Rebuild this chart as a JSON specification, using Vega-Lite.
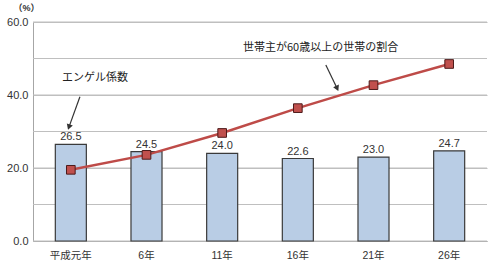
{
  "$schema": "https://vega.github.io/schema/vega-lite/v6.json",
  "width": 454,
  "height": 219,
  "autosize": {"type": "none"},
  "padding": {"left": 33, "top": 22, "right": 13, "bottom": 31},
  "background": "white",
  "config": {
    "view": {"stroke": null},
    "font": "Liberation Sans, Noto Sans CJK JP",
    "axis": {"labelFont": "Liberation Sans, Noto Sans CJK JP", "labelColor": "#333333"}
  },
  "datasets": {
    "main": [
      {"year": "平成元年", "engel": 26.5, "elder": 19.5},
      {"year": "6年", "engel": 24.5, "elder": 23.6},
      {"year": "11年", "engel": 24.0, "elder": 29.6},
      {"year": "16年", "engel": 22.6, "elder": 36.4},
      {"year": "21年", "engel": 23.0, "elder": 42.7},
      {"year": "26年", "engel": 24.7, "elder": 48.5}
    ],
    "grid": [{"engel": 0}, {"engel": 10}, {"engel": 20}, {"engel": 30}, {"engel": 40}, {"engel": 50}, {"engel": 60}],
    "notes": [
      {"label": "エンゲル係数", "pos": 0.82, "engel": 44.7},
      {"label": "世帯主が60歳以上の世帯の割合", "pos": 3.8, "engel": 52.9}
    ],
    "arrows": [
      {"id": "a", "pos": 0.62, "engel": 39.5, "pos2": 0.475, "val2": 31.2},
      {"id": "b", "pos": 3.87, "engel": 48.2, "pos2": 4.02, "val2": 41.8}
    ]
  },
  "layer": [
    {
      "layer": [
        {
          "data": {"name": "grid"},
          "mark": {"type": "rule", "color": "#bfbfbf", "strokeWidth": 1.2},
          "encoding": {
            "y": {"field": "engel", "type": "quantitative"}
          }
        },
        {
          "data": {"name": "main"},
          "mark": {"type": "bar", "fill": "#b9cde5", "stroke": "#3a3a3a", "strokeWidth": 1.2},
          "encoding": {
            "x": {
              "field": "year", "type": "nominal", "sort": null,
              "scale": {"paddingInner": 0.59, "paddingOuter": 0.295},
              "axis": {"title": null, "labelAngle": 0, "ticks": false, "domainColor": "#a6a6a6", "labelFontSize": 10.5, "labelPadding": 9}
            },
            "y": {
              "field": "engel", "type": "quantitative",
              "scale": {"domain": [0, 60], "nice": false},
              "axis": {
                "values": [0, 10, 20, 30, 40, 50, 60], "format": ".1f", "ticks": false, "labelOverlap": false,
                "domain": true, "domainColor": "#a6a6a6", "gridColor": "#bfbfbf", "gridWidth": 1.2,
                "labelFontSize": 11, "labelPadding": 5,
                "title": "（%）", "titleAngle": 0, "titleX": -20, "titleY": -10, "titleAlign": "left",
                "titleFontSize": 9, "titleFontWeight": "bold", "titleColor": "#333333"
              }
            }
          }
        },
        {
          "data": {"name": "main"},
          "mark": {"type": "text", "dy": -7, "fontSize": 11, "color": "#333333"},
          "encoding": {
            "x": {"field": "year", "type": "nominal", "sort": null},
            "y": {"field": "engel", "type": "quantitative"},
            "text": {"field": "engel", "type": "quantitative", "format": ".1f"}
          }
        },
        {
          "data": {"name": "main"},
          "mark": {"type": "line", "color": "#be4b48", "strokeWidth": 2.5},
          "encoding": {
            "x": {"field": "year", "type": "nominal", "sort": null},
            "y": {"field": "elder", "type": "quantitative"}
          }
        },
        {
          "data": {"name": "main"},
          "mark": {"type": "point", "shape": "square", "filled": true, "fill": "#c0504d", "stroke": "#4d1a1a", "strokeWidth": 1, "size": 75, "opacity": 1},
          "encoding": {
            "x": {"field": "year", "type": "nominal", "sort": null},
            "y": {"field": "elder", "type": "quantitative"}
          }
        }
      ]
    },
    {
      "layer": [
        {
          "data": {"name": "notes"},
          "mark": {"type": "text", "fontSize": 11, "color": "#222222", "font": "Noto Sans CJK JP"},
          "encoding": {
            "x": {"field": "pos", "type": "quantitative", "scale": {"domain": [0, 6], "nice": false}, "axis": null},
            "y": {"field": "engel", "type": "quantitative", "axis": null},
            "text": {"field": "label"}
          }
        },
        {
          "data": {"name": "arrows"},
          "mark": {"type": "rule", "color": "#333333", "strokeWidth": 1.2},
          "encoding": {
            "x": {"field": "pos", "type": "quantitative"},
            "y": {"field": "engel", "type": "quantitative"},
            "x2": {"field": "pos2"},
            "y2": {"field": "val2"}
          }
        },
        {
          "data": {"name": "arrows"},
          "transform": [{"filter": "datum.id == 'a'"}],
          "mark": {"type": "point", "shape": "triangle-up", "filled": true, "color": "#333333", "size": 40, "angle": 199, "opacity": 1},
          "encoding": {
            "x": {"field": "pos2", "type": "quantitative"},
            "y": {"field": "val2", "type": "quantitative"}
          }
        },
        {
          "data": {"name": "arrows"},
          "transform": [{"filter": "datum.id == 'b'"}],
          "mark": {"type": "point", "shape": "triangle-up", "filled": true, "color": "#333333", "size": 40, "angle": 155, "opacity": 1},
          "encoding": {
            "x": {"field": "pos2", "type": "quantitative"},
            "y": {"field": "val2", "type": "quantitative"}
          }
        }
      ]
    }
  ],
  "resolve": {"scale": {"x": "independent"}, "axis": {"y": "independent"}}
}
